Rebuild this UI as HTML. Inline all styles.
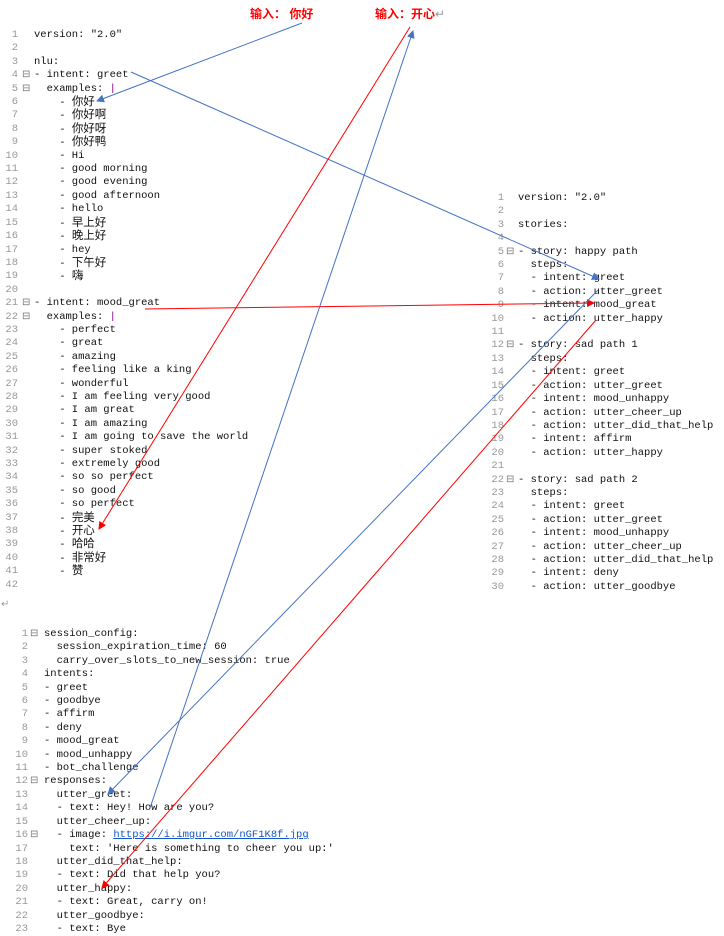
<!DOCTYPE html>
<html><head><meta charset="utf-8"><style>
body{margin:0;width:724px;height:936px;background:#fff;position:relative;overflow:hidden;font-family:"Liberation Mono","Noto Sans CJK SC",monospace;font-size:10.5px;color:#111}
.p{position:absolute;line-height:13.42px;width:400px}
.p span{white-space:pre}
.l{height:13.42px;position:relative}
.n{position:absolute;color:#999;text-align:right;width:20px}
.f{position:absolute;color:#777;font-size:10px}
.lab{position:absolute;color:#f00;font-weight:bold;font-family:"Liberation Sans","Noto Sans CJK SC",sans-serif;font-size:12px}
a{color:#1155cc;text-decoration:underline}
.c{font-size:11.5px}
</style></head><body>
<div class="lab" style="left:250px;top:5px">输入： 你好</div>
<div class="lab" style="left:375px;top:5px">输入：开心<span style="color:#999;font-weight:normal">↵</span></div>

<!-- left panel -->
<div class="p" style="left:0;top:29px">
<div class="l"><span class="n" style="left:-2px">1</span><span style="position:absolute;left:34px">version: "2.0"</span></div>
<div class="l"><span class="n" style="left:-2px">2</span></div>
<div class="l"><span class="n" style="left:-2px">3</span><span style="position:absolute;left:34px">nlu:</span></div>
<div class="l"><span class="n" style="left:-2px">4</span><span class="f" style="left:22px">⊟</span><span style="position:absolute;left:34px">- intent: greet</span></div>
<div class="l"><span class="n" style="left:-2px">5</span><span class="f" style="left:22px">⊟</span><span style="position:absolute;left:34px">  examples: <span style="color:#800080">|</span></span></div>
<div class="l"><span class="n" style="left:-2px">6</span><span style="position:absolute;left:34px">    - <span class="c">你好</span></span></div>
<div class="l"><span class="n" style="left:-2px">7</span><span style="position:absolute;left:34px">    - <span class="c">你好啊</span></span></div>
<div class="l"><span class="n" style="left:-2px">8</span><span style="position:absolute;left:34px">    - <span class="c">你好呀</span></span></div>
<div class="l"><span class="n" style="left:-2px">9</span><span style="position:absolute;left:34px">    - <span class="c">你好鸭</span></span></div>
<div class="l"><span class="n" style="left:-2px">10</span><span style="position:absolute;left:34px">    - Hi</span></div>
<div class="l"><span class="n" style="left:-2px">11</span><span style="position:absolute;left:34px">    - good morning</span></div>
<div class="l"><span class="n" style="left:-2px">12</span><span style="position:absolute;left:34px">    - good evening</span></div>
<div class="l"><span class="n" style="left:-2px">13</span><span style="position:absolute;left:34px">    - good afternoon</span></div>
<div class="l"><span class="n" style="left:-2px">14</span><span style="position:absolute;left:34px">    - hello</span></div>
<div class="l"><span class="n" style="left:-2px">15</span><span style="position:absolute;left:34px">    - <span class="c">早上好</span></span></div>
<div class="l"><span class="n" style="left:-2px">16</span><span style="position:absolute;left:34px">    - <span class="c">晚上好</span></span></div>
<div class="l"><span class="n" style="left:-2px">17</span><span style="position:absolute;left:34px">    - hey</span></div>
<div class="l"><span class="n" style="left:-2px">18</span><span style="position:absolute;left:34px">    - <span class="c">下午好</span></span></div>
<div class="l"><span class="n" style="left:-2px">19</span><span style="position:absolute;left:34px">    - <span class="c">嗨</span></span></div>
<div class="l"><span class="n" style="left:-2px">20</span></div>
<div class="l"><span class="n" style="left:-2px">21</span><span class="f" style="left:22px">⊟</span><span style="position:absolute;left:34px">- intent: mood_great</span></div>
<div class="l"><span class="n" style="left:-2px">22</span><span class="f" style="left:22px">⊟</span><span style="position:absolute;left:34px">  examples: <span style="color:#800080">|</span></span></div>
<div class="l"><span class="n" style="left:-2px">23</span><span style="position:absolute;left:34px">    - perfect</span></div>
<div class="l"><span class="n" style="left:-2px">24</span><span style="position:absolute;left:34px">    - great</span></div>
<div class="l"><span class="n" style="left:-2px">25</span><span style="position:absolute;left:34px">    - amazing</span></div>
<div class="l"><span class="n" style="left:-2px">26</span><span style="position:absolute;left:34px">    - feeling like a king</span></div>
<div class="l"><span class="n" style="left:-2px">27</span><span style="position:absolute;left:34px">    - wonderful</span></div>
<div class="l"><span class="n" style="left:-2px">28</span><span style="position:absolute;left:34px">    - I am feeling very good</span></div>
<div class="l"><span class="n" style="left:-2px">29</span><span style="position:absolute;left:34px">    - I am great</span></div>
<div class="l"><span class="n" style="left:-2px">30</span><span style="position:absolute;left:34px">    - I am amazing</span></div>
<div class="l"><span class="n" style="left:-2px">31</span><span style="position:absolute;left:34px">    - I am going to save the world</span></div>
<div class="l"><span class="n" style="left:-2px">32</span><span style="position:absolute;left:34px">    - super stoked</span></div>
<div class="l"><span class="n" style="left:-2px">33</span><span style="position:absolute;left:34px">    - extremely good</span></div>
<div class="l"><span class="n" style="left:-2px">34</span><span style="position:absolute;left:34px">    - so so perfect</span></div>
<div class="l"><span class="n" style="left:-2px">35</span><span style="position:absolute;left:34px">    - so good</span></div>
<div class="l"><span class="n" style="left:-2px">36</span><span style="position:absolute;left:34px">    - so perfect</span></div>
<div class="l"><span class="n" style="left:-2px">37</span><span style="position:absolute;left:34px">    - <span class="c">完美</span></span></div>
<div class="l"><span class="n" style="left:-2px">38</span><span style="position:absolute;left:34px">    - <span class="c">开心</span></span></div>
<div class="l"><span class="n" style="left:-2px">39</span><span style="position:absolute;left:34px">    - <span class="c">哈哈</span></span></div>
<div class="l"><span class="n" style="left:-2px">40</span><span style="position:absolute;left:34px">    - <span class="c">非常好</span></span></div>
<div class="l"><span class="n" style="left:-2px">41</span><span style="position:absolute;left:34px">    - <span class="c">赞</span></span></div>
<div class="l"><span class="n" style="left:-2px">42</span></div>
</div>
<div style="position:absolute;left:1px;top:599px;color:#999;font-size:10px">↵</div>

<!-- right panel -->
<div class="p" style="left:484px;top:192px">
<div class="l"><span class="n" style="left:0">1</span><span style="position:absolute;left:34px">version: "2.0"</span></div>
<div class="l"><span class="n" style="left:0">2</span></div>
<div class="l"><span class="n" style="left:0">3</span><span style="position:absolute;left:34px">stories:</span></div>
<div class="l"><span class="n" style="left:0">4</span></div>
<div class="l"><span class="n" style="left:0">5</span><span class="f" style="left:22px">⊟</span><span style="position:absolute;left:34px">- story: happy path</span></div>
<div class="l"><span class="n" style="left:0">6</span><span style="position:absolute;left:34px">  steps:</span></div>
<div class="l"><span class="n" style="left:0">7</span><span style="position:absolute;left:34px">  - intent: greet</span></div>
<div class="l"><span class="n" style="left:0">8</span><span style="position:absolute;left:34px">  - action: utter_greet</span></div>
<div class="l"><span class="n" style="left:0">9</span><span style="position:absolute;left:34px">  - intent: mood_great</span></div>
<div class="l"><span class="n" style="left:0">10</span><span style="position:absolute;left:34px">  - action: utter_happy</span></div>
<div class="l"><span class="n" style="left:0">11</span></div>
<div class="l"><span class="n" style="left:0">12</span><span class="f" style="left:22px">⊟</span><span style="position:absolute;left:34px">- story: sad path 1</span></div>
<div class="l"><span class="n" style="left:0">13</span><span style="position:absolute;left:34px">  steps:</span></div>
<div class="l"><span class="n" style="left:0">14</span><span style="position:absolute;left:34px">  - intent: greet</span></div>
<div class="l"><span class="n" style="left:0">15</span><span style="position:absolute;left:34px">  - action: utter_greet</span></div>
<div class="l"><span class="n" style="left:0">16</span><span style="position:absolute;left:34px">  - intent: mood_unhappy</span></div>
<div class="l"><span class="n" style="left:0">17</span><span style="position:absolute;left:34px">  - action: utter_cheer_up</span></div>
<div class="l"><span class="n" style="left:0">18</span><span style="position:absolute;left:34px">  - action: utter_did_that_help</span></div>
<div class="l"><span class="n" style="left:0">19</span><span style="position:absolute;left:34px">  - intent: affirm</span></div>
<div class="l"><span class="n" style="left:0">20</span><span style="position:absolute;left:34px">  - action: utter_happy</span></div>
<div class="l"><span class="n" style="left:0">21</span></div>
<div class="l"><span class="n" style="left:0">22</span><span class="f" style="left:22px">⊟</span><span style="position:absolute;left:34px">- story: sad path 2</span></div>
<div class="l"><span class="n" style="left:0">23</span><span style="position:absolute;left:34px">  steps:</span></div>
<div class="l"><span class="n" style="left:0">24</span><span style="position:absolute;left:34px">  - intent: greet</span></div>
<div class="l"><span class="n" style="left:0">25</span><span style="position:absolute;left:34px">  - action: utter_greet</span></div>
<div class="l"><span class="n" style="left:0">26</span><span style="position:absolute;left:34px">  - intent: mood_unhappy</span></div>
<div class="l"><span class="n" style="left:0">27</span><span style="position:absolute;left:34px">  - action: utter_cheer_up</span></div>
<div class="l"><span class="n" style="left:0">28</span><span style="position:absolute;left:34px">  - action: utter_did_that_help</span></div>
<div class="l"><span class="n" style="left:0">29</span><span style="position:absolute;left:34px">  - intent: deny</span></div>
<div class="l"><span class="n" style="left:0">30</span><span style="position:absolute;left:34px">  - action: utter_goodbye</span></div>
</div>

<!-- bottom panel -->
<div class="p" style="left:8px;top:628px">
<div class="l"><span class="n" style="left:0">1</span><span class="f" style="left:22px">⊟</span><span style="position:absolute;left:36px">session_config:</span></div>
<div class="l"><span class="n" style="left:0">2</span><span style="position:absolute;left:36px">  session_expiration_time: 60</span></div>
<div class="l"><span class="n" style="left:0">3</span><span style="position:absolute;left:36px">  carry_over_slots_to_new_session: true</span></div>
<div class="l"><span class="n" style="left:0">4</span><span style="position:absolute;left:36px">intents:</span></div>
<div class="l"><span class="n" style="left:0">5</span><span style="position:absolute;left:36px">- greet</span></div>
<div class="l"><span class="n" style="left:0">6</span><span style="position:absolute;left:36px">- goodbye</span></div>
<div class="l"><span class="n" style="left:0">7</span><span style="position:absolute;left:36px">- affirm</span></div>
<div class="l"><span class="n" style="left:0">8</span><span style="position:absolute;left:36px">- deny</span></div>
<div class="l"><span class="n" style="left:0">9</span><span style="position:absolute;left:36px">- mood_great</span></div>
<div class="l"><span class="n" style="left:0">10</span><span style="position:absolute;left:36px">- mood_unhappy</span></div>
<div class="l"><span class="n" style="left:0">11</span><span style="position:absolute;left:36px">- bot_challenge</span></div>
<div class="l"><span class="n" style="left:0">12</span><span class="f" style="left:22px">⊟</span><span style="position:absolute;left:36px">responses:</span></div>
<div class="l"><span class="n" style="left:0">13</span><span style="position:absolute;left:36px">  utter_greet:</span></div>
<div class="l"><span class="n" style="left:0">14</span><span style="position:absolute;left:36px">  - text: Hey! How are you?</span></div>
<div class="l"><span class="n" style="left:0">15</span><span style="position:absolute;left:36px">  utter_cheer_up:</span></div>
<div class="l"><span class="n" style="left:0">16</span><span class="f" style="left:22px">⊟</span><span style="position:absolute;left:36px">  - image: <a>https://i.imgur.com/nGF1K8f.jpg</a></span></div>
<div class="l"><span class="n" style="left:0">17</span><span style="position:absolute;left:36px">    text: 'Here is something to cheer you up:'</span></div>
<div class="l"><span class="n" style="left:0">18</span><span style="position:absolute;left:36px">  utter_did_that_help:</span></div>
<div class="l"><span class="n" style="left:0">19</span><span style="position:absolute;left:36px">  - text: Did that help you?</span></div>
<div class="l"><span class="n" style="left:0">20</span><span style="position:absolute;left:36px">  utter_happy:</span></div>
<div class="l"><span class="n" style="left:0">21</span><span style="position:absolute;left:36px">  - text: Great, carry on!</span></div>
<div class="l"><span class="n" style="left:0">22</span><span style="position:absolute;left:36px">  utter_goodbye:</span></div>
<div class="l"><span class="n" style="left:0">23</span><span style="position:absolute;left:36px">  - text: Bye</span></div>
</div>

<svg width="724" height="936" style="position:absolute;left:0;top:0" >
<defs>
<marker id="ab" markerWidth="8" markerHeight="8" refX="7" refY="4" orient="auto" markerUnits="userSpaceOnUse"><path d="M0,0 L8,4 L0,8 z" fill="#4472c4"/></marker>
<marker id="ar" markerWidth="8" markerHeight="8" refX="7" refY="4" orient="auto" markerUnits="userSpaceOnUse"><path d="M0,0 L8,4 L0,8 z" fill="#f00"/></marker>
</defs>
<g stroke-width="1" fill="none">
<line x1="302" y1="23" x2="97" y2="101" stroke="#4472c4" marker-end="url(#ab)"/>
<line x1="131" y1="72" x2="599" y2="279" stroke="#4472c4" marker-end="url(#ab)"/>
<line x1="145" y1="309" x2="594" y2="303" stroke="#f00" marker-end="url(#ar)"/>
<line x1="410" y1="27" x2="99" y2="529" stroke="#f00" marker-end="url(#ar)"/>
<line x1="150" y1="808" x2="413" y2="31" stroke="#4472c4" marker-end="url(#ab)"/>
<line x1="598" y1="290" x2="108" y2="794" stroke="#4472c4" marker-end="url(#ab)"/>
<line x1="596" y1="320" x2="102" y2="888" stroke="#f00" marker-end="url(#ar)"/>
</g>
</svg>
</body></html>
